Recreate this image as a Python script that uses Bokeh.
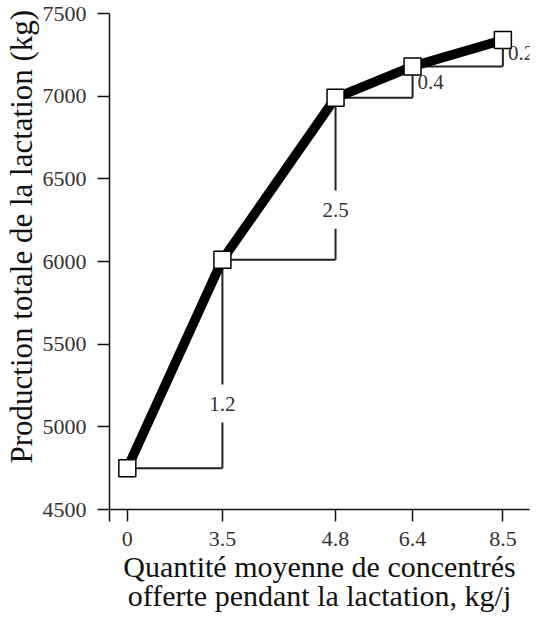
from bokeh.plotting import figure
from bokeh.models import ColumnDataSource, FixedTicker, LabelSet, Title, Range1d
from bokeh.embed import file_html
from bokeh.resources import INLINE

# ---- data ----
x_labels = ["0", "3.5", "4.8", "6.4", "8.5"]
x_pos = [0.0, 1.0, 2.19, 3.0, 3.95]          # positions of the categories along the axis
production = [4750, 6010, 6990, 7180, 7340]   # kg per lactation
gain_labels = ["1.2", "2.5", "0.4", "0.2"]
y_ticks = [4500, 5000, 5500, 6000, 6500, 7000, 7500]

FONT = "Liberation Serif"
X_START, X_END = -0.1875, 4.23

p = figure(frame_width=420, frame_height=496,
           min_border_left=106, min_border_right=7, min_border_top=13, min_border_bottom=98,
           x_range=Range1d(X_START, X_END), y_range=Range1d(4500, 7500),
           output_backend="svg", toolbar_location=None)
p.outline_line_color = None
p.grid.visible = False
p.background_fill_color = "white"
p.border_fill_color = "white"

# ---- brackets ----
hx0, hx1, hy = [], [], []
vx, vy0, vy1 = [], [], []
in_x, in_y, in_t = [], [], []
sd_x, sd_y, sd_t = [], [], []
GAP = 115
for i in range(len(gain_labels)):
    xa, xb = x_pos[i], x_pos[i + 1]
    ya, yb = production[i], production[i + 1]
    hx0.append(xa); hx1.append(xb); hy.append(ya)
    if yb - ya > 500:
        ly = ya + 0.31 * (yb - ya)
        vx += [xb, xb]; vy0 += [ya, ly + GAP]; vy1 += [ly - GAP, yb]
        in_x.append(xb); in_y.append(ly); in_t.append(gain_labels[i])
    else:
        vx.append(xb); vy0.append(ya); vy1.append(yb)
        sd_x.append(xb); sd_y.append((ya + yb) / 2); sd_t.append(gain_labels[i])

p.segment(x0=hx0, y0=hy, x1=hx1, y1=hy, line_color="#222222", line_width=2)
p.segment(x0=vx, y0=vy0, x1=vx, y1=vy1, line_color="#222222", line_width=2)

in_src = ColumnDataSource(dict(x=in_x, y=in_y, t=in_t))
sd_src = ColumnDataSource(dict(x=sd_x, y=sd_y, t=sd_t))
p.add_layout(LabelSet(x="x", y="y", text="t", source=in_src, text_align="center",
                      text_baseline="middle", text_font=FONT, text_font_size="21px",
                      text_color="#333333"))
p.add_layout(LabelSet(x="x", y="y", text="t", source=sd_src, text_align="left",
                      text_baseline="middle", x_offset=5, text_font=FONT,
                      text_font_size="21px", text_color="#333333"))

# ---- main series ----
p.line(x_pos, production, line_color="black", line_width=9.5)
p.scatter(x_pos, production, marker="square", size=17, fill_color="white",
          line_color="black", line_width=1.5)

# ---- axes ----
xt = [X_START + 1e-6] + x_pos
p.xaxis.ticker = FixedTicker(ticks=xt)
ov = {xt[0]: ""}
for xp, lab in zip(x_pos, x_labels):
    ov[xp] = lab
p.xaxis.major_label_overrides = ov
p.yaxis.ticker = FixedTicker(ticks=y_ticks)

for ax in (p.xaxis, p.yaxis):
    ax.axis_line_width = 1.5
    ax.axis_line_color = "#111111"
    ax.major_tick_line_width = 1.5
    ax.major_tick_line_color = "#111111"
    ax.major_tick_in = 0
    ax.major_tick_out = 12
    ax.minor_tick_line_color = None
    ax.major_label_text_font = FONT
    ax.major_label_text_font_size = "22px"
    ax.major_label_text_color = "#333333"
    ax.axis_label_text_font = FONT
    ax.axis_label_text_font_style = "normal"
    ax.axis_label_text_font_size = "30px"
    ax.axis_label_text_color = "#111111"

p.xaxis.major_label_standoff = 10
p.yaxis.major_label_standoff = 11
p.xaxis.axis_label = "Quantité moyenne de concentrés\nofferte pendant la lactation, kg/j"
p.xaxis.axis_label_text_line_height = 0.9
p.xaxis.axis_label_standoff = 1

# y-axis title, shifted slightly above the frame centre as in the reference
p.add_layout(Title(text="Production totale de la lactation (kg)", align="left", offset=46,
                   standoff=2, text_font=FONT, text_font_size="31px",
                   text_font_style="normal", text_color="#111111"), "left")

open("out.html", "w").write(file_html(p, INLINE))
